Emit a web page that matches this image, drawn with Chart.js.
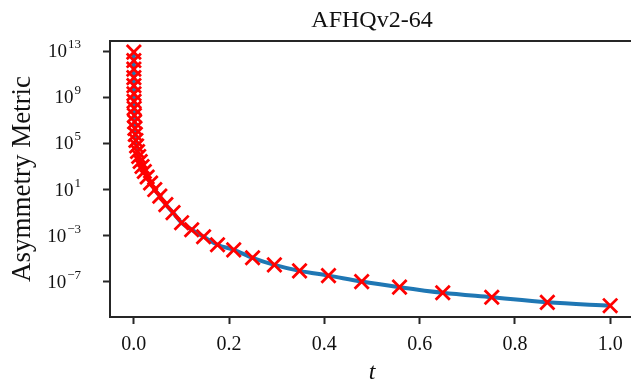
<!DOCTYPE html>
<html>
<head>
<meta charset="utf-8">
<script src="https://cdn.jsdelivr.net/npm/chart.js@4"></script>
<style>
  html, body { margin: 0; padding: 0; overflow: hidden; background: #fff; }
  #wrap { width: 634px; height: 381px; }
</style>
</head>
<body>
<div id="wrap"><canvas id="chart" width="634" height="381"></canvas></div>
<script>
// sampling times t (ascending) and the asymmetry metric
const tValues = [0.0000249, 0.0000458, 0.0000803, 0.0001349, 0.0002187, 0.000344, 0.000525, 0.000784,
  0.001145, 0.0016384, 0.002305, 0.003193, 0.00436, 0.005871, 0.0078125, 0.01028, 0.0134, 0.01727,
  0.02208, 0.02799, 0.03522, 0.04398, 0.05455, 0.06722, 0.08235, 0.1003, 0.1215, 0.1465, 0.1757,
  0.2097, 0.2493, 0.2951, 0.3479, 0.4087, 0.4783, 0.5578, 0.6485, 0.7514, 0.8681, 1.0];
const metricValues = [8.1e12, 1.5e12, 2.7e11, 5e10, 1e10, 2e9, 4.5e8, 1.1e8, 2.7e7, 7.4e6, 2e6, 6e5,
  1.8e5, 6e4, 2e4, 7.4e3, 2.7e3, 1e3, 370, 123, 37, 10, 2.7, 0.5, 0.1, 1.35e-2, 3.3e-3, 8.1e-4,
  1.66e-4, 6e-5, 1.23e-5, 3e-6, 9.1e-7, 3.5e-7, 1.07e-7, 3.5e-8, 1.15e-8, 4.7e-9, 1.7e-9, 8.7e-10];

const xTicks = [0, 0.2, 0.4, 0.6, 0.8, 1.0];
const yTickExponents = [13, 9, 5, 1, -3, -7];

const points = tValues.map((t, i) => ({ x: t, y: metricValues[i] }));
const ink = "#262626";
const serif = "'Liberation Serif', 'DejaVu Serif', serif";

// draws the top spine and the 10^n labels of the log axis
const frameAndLabels = {
  id: "frameAndLabels",
  afterDraw(chart) {
    const ctx = chart.ctx;
    const area = chart.chartArea;
    ctx.save();
    ctx.strokeStyle = ink;
    ctx.lineWidth = 2;
    ctx.beginPath();
    ctx.moveTo(area.left - 1, area.top);
    ctx.lineTo(area.right + 1, area.top);
    ctx.moveTo(area.right, area.top);
    ctx.lineTo(area.right, area.bottom);
    ctx.stroke();

    const y = chart.scales.y;
    const rightEdge = 81;
    ctx.fillStyle = "#111";
    ctx.textBaseline = "alphabetic";
    yTickExponents.forEach((e) => {
      const py = y.getPixelForValue(Math.pow(10, e));
      const expText = e < 0 ? "\u2212" + Math.abs(e) : String(e);
      ctx.font = "13px " + serif;
      const ew = ctx.measureText(expText).width;
      ctx.font = "19px " + serif;
      const bw = ctx.measureText("10").width;
      ctx.fillText("10", rightEdge - ew - bw - 1, py + 6);
      ctx.font = "13px " + serif;
      ctx.fillText(expText, rightEdge - ew, py - 3);
    });
    ctx.restore();
  },
};

new Chart(document.getElementById("chart"), {
  type: "line",
  data: {
    datasets: [
      {
        data: points,
        borderColor: "#ff0000",
        backgroundColor: "#ff0000",
        showLine: false,
        pointStyle: "crossRot",
        pointRadius: 10,
        pointHoverRadius: 10,
        pointBorderWidth: 2.8,
        order: 1,
      },
      {
        data: points,
        borderColor: "#1f77b4",
        borderWidth: 4,
        pointRadius: 0,
        cubicInterpolationMode: "monotone",
        fill: false,
        order: 2,
      },
    ],
  },
  options: {
    responsive: false,
    animation: false,
    devicePixelRatio: 1,
    layout: { padding: 0, autoPadding: false },
    plugins: {
      legend: { display: false },
      tooltip: { enabled: false },
      title: {
        display: true,
        fullSize: false,
        text: "AFHQv2-64",
        color: "#111",
        font: { family: serif, size: 24, weight: "normal" },
        padding: { top: 6, bottom: 6.2 },
      },
    },
    scales: {
      x: {
        type: "linear",
        min: -0.05,
        max: 1.05,
        afterBuildTicks: (scale) => {
          scale.ticks = xTicks.map((v) => ({ value: v }));
        },
        afterFit: (scale) => {
          scale.height = 64;
          scale.paddingLeft = 0;
          scale.paddingRight = 0;
        },
        ticks: {
          color: "#111",
          font: { family: serif, size: 20 },
          padding: 9,
          maxRotation: 0,
          autoSkip: false,
          callback: (v) => Number(v).toFixed(1),
        },
        grid: {
          drawOnChartArea: false,
          tickLength: 7,
          tickWidth: 2,
          tickColor: ink,
        },
        border: { color: ink, width: 2 },
        title: {
          display: true,
          text: "t",
          color: "#111",
          font: { family: serif, size: 24, style: "italic", lineHeight: 0.7 },
          padding: { top: 0, bottom: 0 },
        },
      },
      y: {
        type: "logarithmic",
        min: Math.pow(10, -10.04),
        max: Math.pow(10, 13.87),
        afterBuildTicks: (scale) => {
          scale.ticks = yTickExponents.map((e) => ({ value: Math.pow(10, e) }));
        },
        afterFit: (scale) => {
          scale.width = 110;
        },
        ticks: {
          autoSkip: false,
          callback: () => "",
        },
        grid: {
          drawOnChartArea: false,
          tickLength: 7,
          tickWidth: 2,
          tickColor: ink,
        },
        border: { color: ink, width: 2 },
        title: {
          display: true,
          text: "Asymmetry Metric",
          color: "#111",
          font: { family: serif, size: 27 },
          padding: { top: 7, bottom: 0 },
        },
      },
    },
  },
  plugins: [frameAndLabels],
});
</script>
</body>
</html>
